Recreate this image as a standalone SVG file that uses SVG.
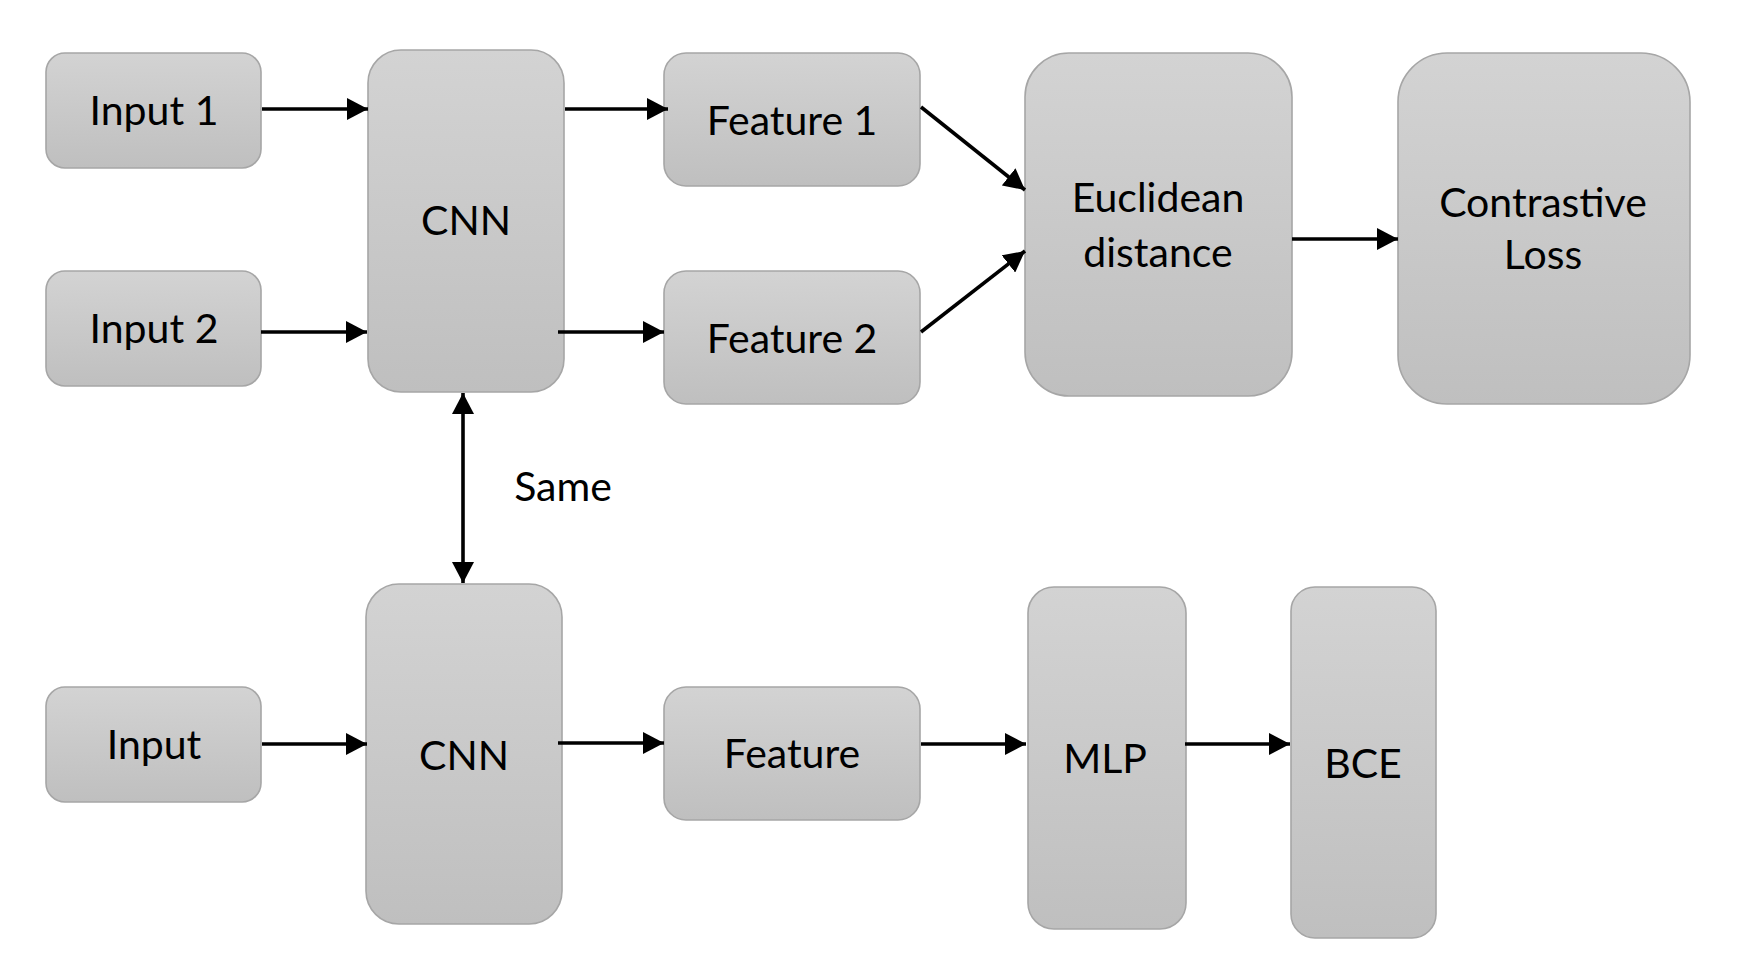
<svg xmlns="http://www.w3.org/2000/svg" width="1744" height="980" viewBox="0 0 1744 980">
<defs>
<linearGradient id="g" x1="0" y1="0" x2="0" y2="1">
<stop offset="0" stop-color="#d3d3d3"/>
<stop offset="1" stop-color="#bfbfbf"/>
</linearGradient>
<marker id="ah" markerUnits="userSpaceOnUse" markerWidth="22" markerHeight="22" viewBox="0 0 22 22" refX="21" refY="11" orient="auto-start-reverse">
<path d="M0,0 L21,11 L0,22 Z" fill="#000"/>
</marker>
</defs>
<style>
.box{fill:url(#g);stroke:#a6a6a6;stroke-width:1.6}
.t{font-family:Lato,"Open Sans","Liberation Sans",sans-serif;font-size:41px;fill:#000;text-anchor:middle}
.c{stroke:#000;stroke-width:3.6;fill:none;marker-end:url(#ah)}
</style>
<rect width="1744" height="980" fill="#fff"/>
<g id="input1"><rect class="box" x="46" y="53" width="215" height="115" rx="19"/><text class="t" x="154" y="125">Input 1</text></g>
<g id="input2"><rect class="box" x="46" y="271" width="215" height="115" rx="19"/><text class="t" x="154" y="343">Input 2</text></g>
<g id="cnn1"><rect class="box" x="368" y="50" width="196" height="342" rx="33"/><text class="t" x="466" y="235">CNN</text></g>
<g id="feature1"><rect class="box" x="664" y="53" width="256" height="133" rx="22"/><text class="t" x="792" y="135">Feature 1</text></g>
<g id="feature2"><rect class="box" x="664" y="271" width="256" height="133" rx="22"/><text class="t" x="792" y="353">Feature 2</text></g>
<g id="euclidean"><rect class="box" x="1025" y="53" width="267" height="343" rx="44"/><text class="t" x="1158" y="212">Euclidean</text><text class="t" x="1158" y="267">distance</text></g>
<g id="contrastive"><rect class="box" x="1398" y="53" width="292" height="351" rx="49"/><text class="t" x="1543" y="217">Contrastive</text><text class="t" x="1543" y="269">Loss</text></g>
<g id="input"><rect class="box" x="46" y="687" width="215" height="115" rx="19"/><text class="t" x="154" y="759">Input</text></g>
<g id="cnn2"><rect class="box" x="366" y="584" width="196" height="340" rx="33"/><text class="t" x="464" y="770">CNN</text></g>
<g id="feature"><rect class="box" x="664" y="687" width="256" height="133" rx="22"/><text class="t" x="792" y="768">Feature</text></g>
<g id="mlp"><rect class="box" x="1028" y="587" width="158" height="342" rx="26"/><text class="t" x="1105" y="773">MLP</text></g>
<g id="bce"><rect class="box" x="1291" y="587" width="145" height="351" rx="24"/><text class="t" x="1363" y="778">BCE</text></g>
<g id="connectors">
<line class="c" x1="262" y1="109" x2="368" y2="109"/>
<line class="c" x1="261" y1="332" x2="367" y2="332"/>
<line class="c" x1="565" y1="109" x2="668" y2="109"/>
<line class="c" x1="558" y1="332" x2="664" y2="332"/>
<line class="c" x1="921" y1="107" x2="1025" y2="190"/>
<line class="c" x1="921" y1="332" x2="1025" y2="251"/>
<line class="c" x1="1292" y1="239" x2="1398" y2="239"/>
<line class="c" x1="463" y1="393" x2="463" y2="583" marker-start="url(#ah)"/>
<line class="c" x1="262" y1="744" x2="367" y2="744"/>
<line class="c" x1="558" y1="743" x2="664" y2="743"/>
<line class="c" x1="921" y1="744" x2="1026" y2="744"/>
<line class="c" x1="1185" y1="744" x2="1290" y2="744"/>
<text class="t" x="563" y="501">Same</text>
</g>
</svg>
